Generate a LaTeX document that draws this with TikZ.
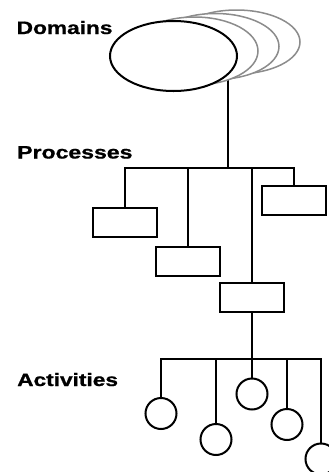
\documentclass[tikz,border=0pt]{standalone}
\usepackage{fontspec}
\setmainfont{Liberation Sans}
\newfontfamily\levelfont{Liberation Sans}[BoldFeatures={FakeBold=0.8}]
\usetikzlibrary{backgrounds,shapes.geometric}
\begin{document}
\begin{tikzpicture}[x=1pt,y=-1pt,
  conn/.style={line width=2pt, black},
  procbox/.style={draw, line width=2pt, minimum width=64pt, minimum height=29pt,
    inner sep=0pt, fill=white},
  actcirc/.style={draw, circle, line width=2pt, minimum size=31pt, inner sep=0pt,
    fill=white},
  domainfront/.style={draw, ellipse, line width=2pt, minimum width=127pt,
    minimum height=70pt, inner sep=0pt, fill=white},
  domainback/.style={draw=black!45, ellipse, line width=1.5pt, minimum width=127pt,
    inner sep=0pt, fill=white},
  levellabel/.style={anchor=base west, inner sep=0pt,
    font=\levelfont\bfseries\fontsize{18}{18}\selectfont}
]
\clip (0,0) rectangle (329,472);

% level labels
\node[levellabel] (lbldom) at (16.5,34) {\scalebox{1.26}[1]{Domains}};
\node[levellabel] (lblproc) at (17,158.5) {\scalebox{1.28}[1]{Processes}};
\node[levellabel] (lblact) at (17,386) {\scalebox{1.26}[1]{Activities}};

% stacked domains, back to front
\node[domainback, minimum height=64pt] (dom3) at (236.5,42) {};
\node[domainback, minimum height=66pt] (dom2) at (215.5,46.5) {};
\node[domainback, minimum height=68pt] (dom1) at (194.5,51) {};
\node[domainfront] (dom) at (173.5,56) {};

% processes
\node[procbox] (p1) at (125,222.5) {};
\node[procbox] (p2) at (188,261) {};
\node[procbox] (p3) at (252,297.5) {};
\node[procbox] (p4) at (294,200.5) {};

% activities
\node[actcirc] (a1) at (161,413.5) {};
\node[actcirc] (a2) at (216,439.5) {};
\node[actcirc] (a3) at (252,394) {};
\node[actcirc] (a4) at (287,424.5) {};
\node[actcirc] (a5) at (321,459) {};

% connectors
\coordinate (domtap) at (228,70);
\coordinate (bus1) at (228,168);
\coordinate (bus2) at (252,359);
\begin{pgfonlayer}{background}
  \draw[conn] (domtap) -- (bus1);
  \draw[conn] (p1.north) |- (bus1) -| (p4.north);
  \draw[conn] (p2.north) -- (p2.north |- bus1);
  \draw[conn] (p3.north) -- (p3.north |- bus1);
  \draw[conn] (p3.south) -- (bus2);
  \draw[conn] (a1.north) |- (bus2) -| (a5.north);
  \draw[conn] (a2.north) -- (a2.north |- bus2);
  \draw[conn] (a3.north) -- (a3.north |- bus2);
  \draw[conn] (a4.north) -- (a4.north |- bus2);
\end{pgfonlayer}
\end{tikzpicture}
\end{document}
